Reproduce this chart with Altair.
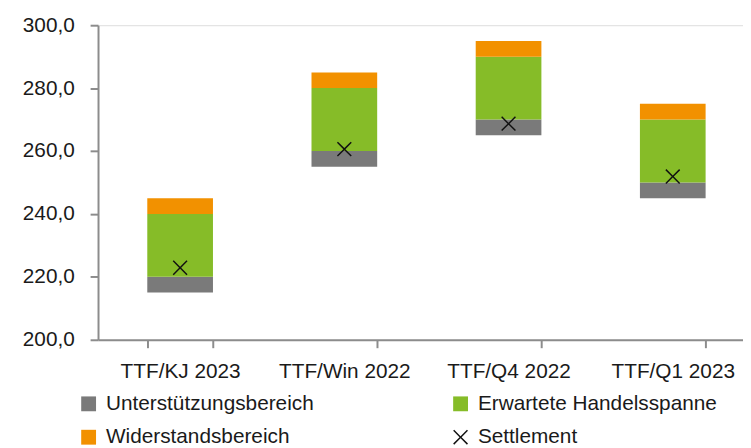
import altair as alt
import pandas as pd

categories = ["TTF/KJ 2023", "TTF/Win 2022", "TTF/Q4 2022", "TTF/Q1 2023"]
support_lo = [215, 255, 265, 245]
support_hi = [220, 260, 270, 250]
range_hi = [240, 280, 290, 270]
resist_hi = [245, 285, 295, 275]
settlement = [222.9, 260.6, 268.7, 251.9]

# legend order (filled column by column): U, W | E, S
series = ["Unterstützungsbereich", "Widerstandsbereich", "Erwartete Handelsspanne", "Settlement"]
colors = ["#7a7a7a", "#f29100", "#86bc28", "#111111"]
xpath = "M0,-0.14L0.86,-1L1,-0.86L0.14,0L1,0.86L0.86,1L0,0.14L-0.86,1L-1,0.86L-0.14,0L-1,-0.86L-0.86,-1Z"
shapes = ["square", "square", "square", xpath]

rows = []
for i, c in enumerate(categories):
    rows.append({"cat": c, "series": "Unterstützungsbereich", "lo": support_lo[i], "hi": support_hi[i]})
    rows.append({"cat": c, "series": "Erwartete Handelsspanne", "lo": support_hi[i], "hi": range_hi[i]})
    rows.append({"cat": c, "series": "Widerstandsbereich", "lo": range_hi[i], "hi": resist_hi[i]})
bars_df = pd.DataFrame(rows)
pts_df = pd.DataFrame({"cat": categories, "value": settlement, "series": ["Settlement"] * 4})

FONT = "Liberation Sans"
AX = "#8c8c8c"
TXT = "#1a1a1a"

xenc = alt.X("cat:N", sort=categories, title=None,
             scale=alt.Scale(paddingInner=0.6, paddingOuter=0.3),
             axis=alt.Axis(labelAngle=0, tickBand="extent", tickSize=8, labelPadding=13,
                           domainColor=AX, tickColor=AX, domainWidth=2, tickWidth=2,
                           labelFont=FONT, labelFontSize=21, labelColor=TXT, grid=False))

color_scale = alt.Scale(domain=series, range=colors)
legend = alt.Legend(title=None, orient="none", legendX=-20, legendY=372,
                    columns=2, columnPadding=137, rowPadding=12,
                    symbolSize=225, labelFontSize=21, labelFont=FONT, labelLimit=500,
                    labelColor=TXT, labelOffset=7, symbolStrokeWidth=0,
                    symbolOpacity=1, padding=0)

bars = alt.Chart(bars_df).mark_bar(opacity=1).encode(
    x=xenc,
    y=alt.Y("lo:Q", title=None,
            scale=alt.Scale(domain=[200, 300], nice=False, zero=False),
            axis=alt.Axis(values=[200, 220, 240, 260, 280, 300], tickSize=8, labelPadding=16,
                          labelExpr="replace(format(datum.value, '.1f'), '.', ',')",
                          domainColor=AX, tickColor=AX, domainWidth=2, tickWidth=2,
                          labelFont=FONT, labelFontSize=21, labelColor=TXT, grid=False)),
    y2="hi:Q",
    color=alt.Color("series:N", scale=color_scale, legend=legend),
)

pts = alt.Chart(pts_df).mark_point(filled=True, size=225, opacity=1).encode(
    x=alt.X("cat:N", sort=categories),
    y=alt.Y("value:Q"),
    color=alt.Color("series:N", scale=color_scale, legend=legend),
    shape=alt.Shape("series:N", scale=alt.Scale(domain=series, range=shapes), legend=legend),
)

chart = alt.layer(bars, pts).properties(
    width=664, height=318,
    autosize=alt.AutoSizeParams(type="none"),
    padding={"left": 91, "top": 15, "right": -12, "bottom": 107},
).configure_view(stroke=None).configure(background="white")

chart.save("out.html", embed_options={"renderer": "svg", "actions": False})
